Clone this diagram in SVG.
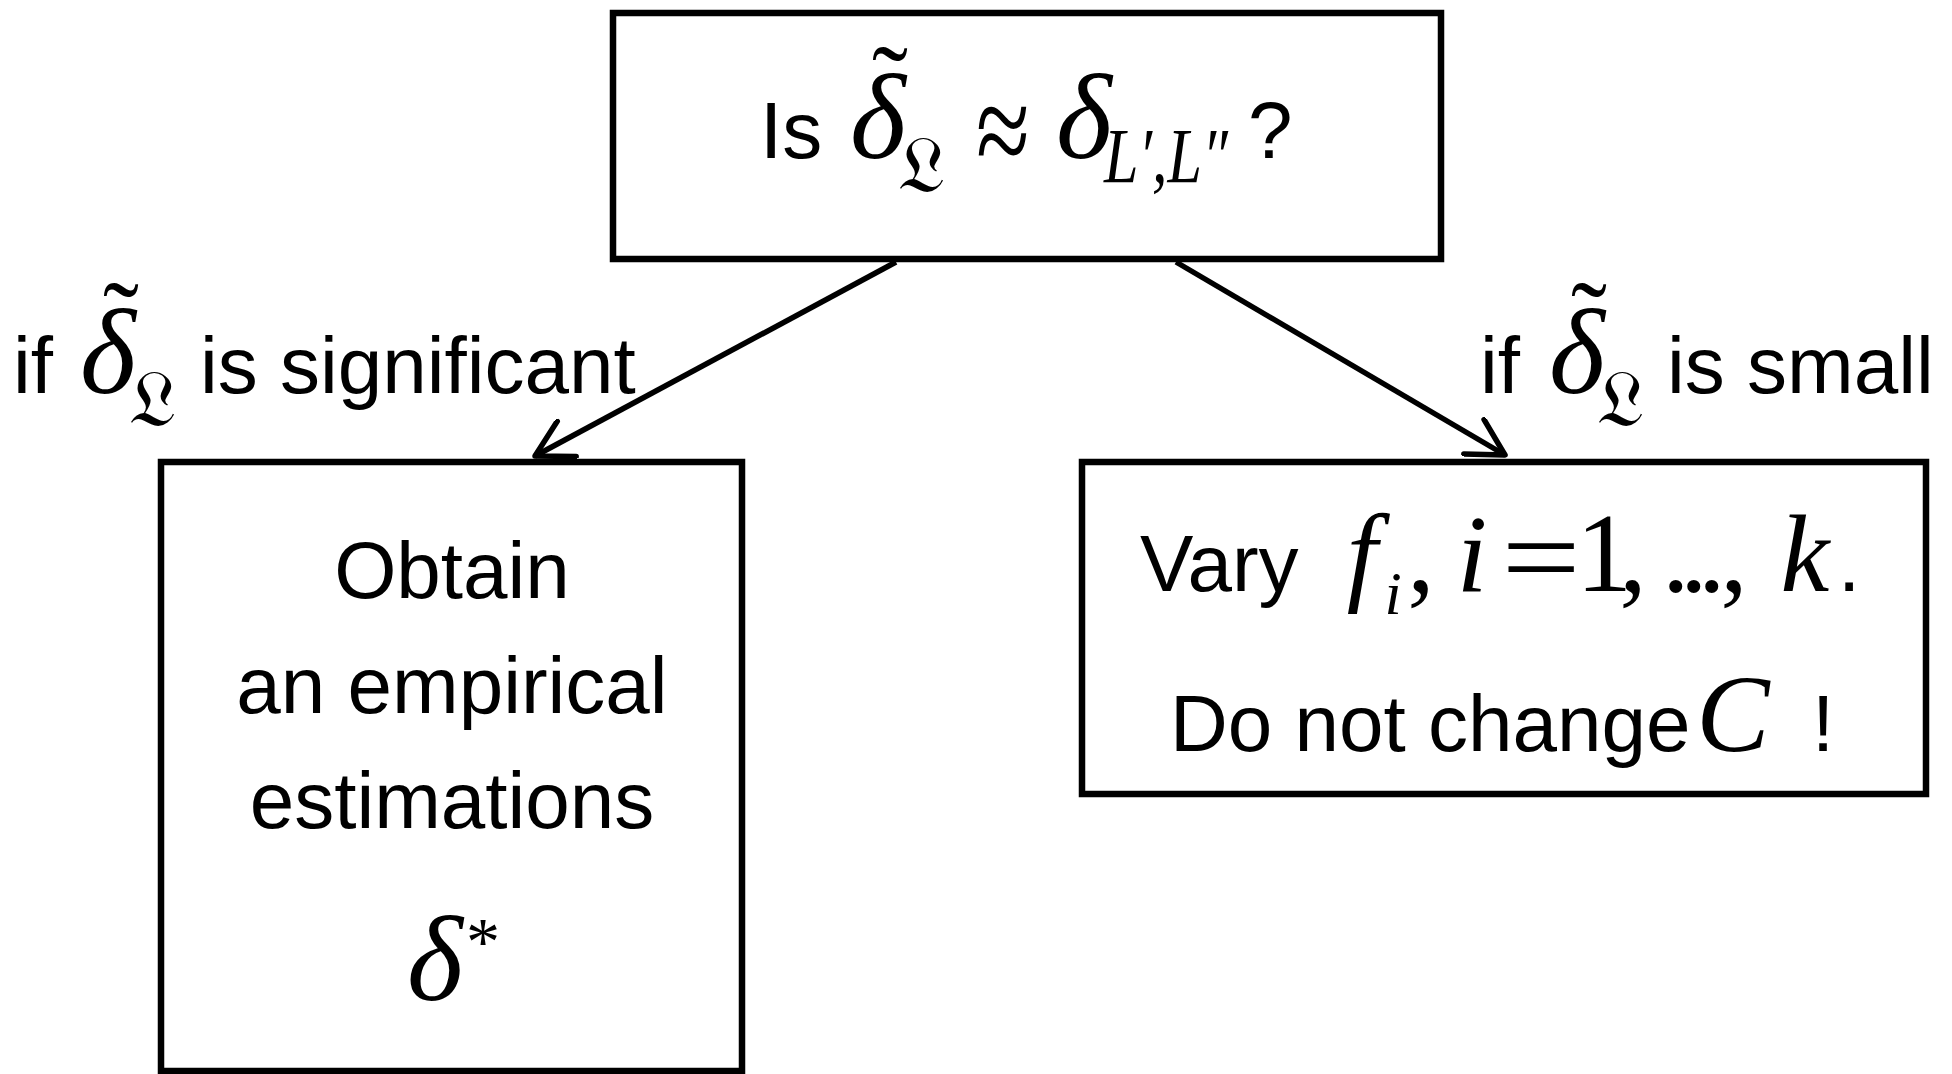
<svg xmlns="http://www.w3.org/2000/svg" width="1952" height="1074" viewBox="0 0 1952 1074">
<style>
.box{fill:#fff;stroke:#000;stroke-width:6.5}
.t{font-family:"Liberation Sans",Arial,sans-serif;font-size:80px;fill:#000}
.d{font-family:"Liberation Serif","Times New Roman",serif;font-style:italic;font-size:120px;fill:#000}
.m{font-family:"Liberation Serif","Times New Roman",serif;font-style:italic;font-size:110px;fill:#000}
.mu{font-family:"Liberation Serif","Times New Roman",serif;font-size:110px;fill:#000}
.tl{font-family:"Liberation Serif","Times New Roman",serif;font-size:108px;fill:#000}
.fr{font-family:"DejaVu Serif","DejaVu Sans",serif;font-size:80px;fill:#000}
.sub{font-family:"Liberation Serif","Times New Roman",serif;font-style:italic;font-size:62px;fill:#000}
.conn{stroke:#000;stroke-width:5.5;fill:none;marker-end:url(#arr)}
.c{text-anchor:middle}
</style>
<defs>
<marker id="arr" viewBox="0 0 44 44" refX="40" refY="22" markerWidth="44" markerHeight="44" markerUnits="userSpaceOnUse" orient="auto">
<path d="M4,2 L40,22 L4,42" fill="none" stroke="#000" stroke-width="5.5" stroke-linecap="round" stroke-linejoin="round"/>
</marker>
</defs>
<rect width="1952" height="1074" fill="#fff"/>
<g id="connectors">
<line class="conn" x1="896" y1="262" x2="535" y2="456"/>
<line class="conn" x1="1176" y1="262" x2="1505" y2="455"/>
<g id="label-significant">
<text class="t" x="13" y="393">if</text>
<text class="d c" x="108" y="393">δ</text>
<text class="tl c" x="121" y="356">˜</text>
<text class="fr c" x="152" y="426">𝔏</text>
<text class="t" x="200" y="393">is significant</text>
</g>
<g id="label-small">
<text class="t" x="1480" y="393">if</text>
<text class="d c" x="1577" y="393">δ</text>
<text class="tl c" x="1589" y="356">˜</text>
<text class="fr c" x="1620" y="426">𝔏</text>
<text class="t" x="1667" y="393">is small</text>
</g>
</g>
<g id="node-question">
<rect class="box" x="613" y="13" width="828" height="246"/>
<text class="t" x="760" y="158">Is</text>
<text class="d c" x="878" y="158">δ</text>
<text class="tl c" x="890" y="120">˜</text>
<text class="fr c" x="921" y="192">𝔏</text>
<text class="mu c" transform="translate(1003,139) scale(1,1.35)" x="0" y="27" style="font-size:98px">≈</text>
<text class="d c" x="1084" y="158">δ</text>
<text class="sub" transform="translate(0,182) scale(1,1.25) translate(0,-182)" x="1104" y="182">L′,L″</text>
<text class="t" x="1248" y="158">?</text>
</g>
<g id="node-significant">
<rect class="box" x="161" y="462" width="581" height="609"/>
<text class="t c" x="452" y="598">Obtain</text>
<text class="t c" x="452" y="713">an empirical</text>
<text class="t c" x="452" y="828">estimations</text>
<text class="d c" x="435" y="1000">δ</text>
<text class="mu" x="466" y="964" style="font-size:68px">*</text>
</g>
<g id="node-small">
<rect class="box" x="1082" y="462" width="844" height="332"/>
<text class="t" x="1140" y="591">Vary</text>
<text class="m c" x="1362" y="591">f</text>
<text class="sub c" x="1393" y="614" style="font-size:62px">i</text>
<text class="mu c" x="1421" y="591">,</text>
<text class="m c" x="1472" y="591">i</text>
<text class="mu c" transform="translate(1541,565) scale(1.35,1.1)" x="0" y="28" style="font-size:104px">=</text>
<text class="mu c" x="1604" y="591" style="font-size:112px">1</text>
<text class="mu c" x="1633" y="591">,</text>
<text class="mu" x="1662 1680 1698" y="591">...</text>
<text class="mu c" x="1734" y="591">,</text>
<text class="m c" x="1805" y="591">k</text>
<text class="t" x="1838" y="591">.</text>
<text class="t" x="1170" y="751">Do not change</text>
<text class="m c" x="1733" y="751">C</text>
<text class="t" x="1812" y="751">!</text>
</g>
</svg>
